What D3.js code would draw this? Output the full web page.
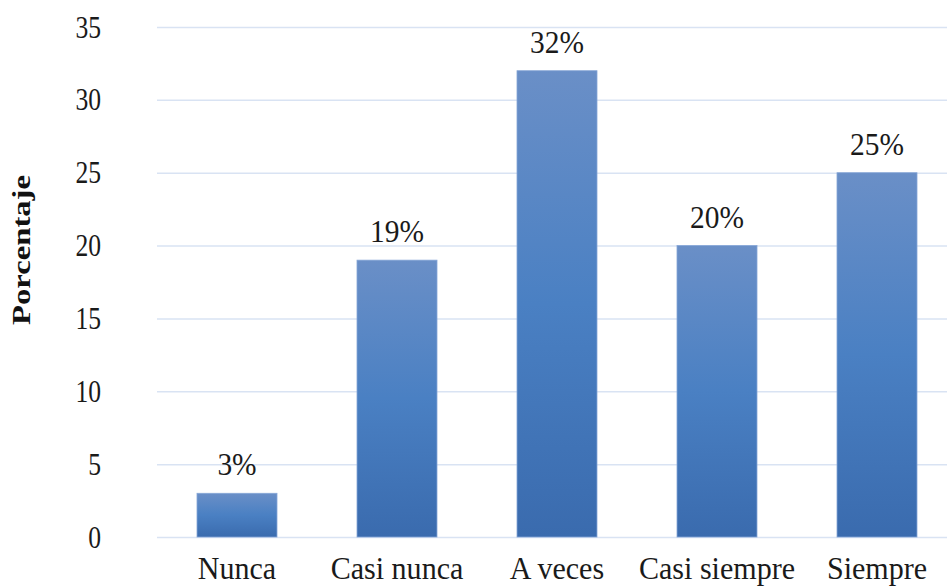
<!DOCTYPE html>
<html>
<head>
<meta charset="utf-8">
<script src="https://cdn.jsdelivr.net/npm/d3@7"></script>
<style>
  body { margin: 0; background: #fff; }
  svg { display: block; }
  svg text { font-family: "Liberation Serif", "Times New Roman", "DejaVu Serif", serif; }
</style>
</head>
<body>
<div id="chart"></div>
<script>
// chart data
let categories = ["Nunca", "Casi nunca", "A veces", "Casi siempre", "Siempre"]
let values = [3, 19, 32, 20, 25]
let tickValues = [0, 5, 10, 15, 20, 25, 30, 35]

let width = 947, height = 586
let plotLeft = 157, plotTop = 27, plotBottom = 537

let svg = d3.select("#chart").append("svg")
  .attr("width", width)
  .attr("height", height)

// bar gradient, light on top, darker at the bottom
let grad = svg.append("defs").append("linearGradient")
  .attr("id", "barGrad")
  .attr("x1", 0).attr("y1", 0).attr("x2", 0).attr("y2", 1)
grad.append("stop").attr("offset", "0%").attr("stop-color", "#6a8fc7")
grad.append("stop").attr("offset", "50%").attr("stop-color", "#4a80c3")
grad.append("stop").attr("offset", "100%").attr("stop-color", "#3a6bae")

let x = d3.scaleBand()
  .domain(categories)
  .range([plotLeft, plotLeft + 800])
  .paddingInner(0.5)
  .paddingOuter(0.25)

let y = d3.scaleLinear()
  .domain([0, 35])
  .range([plotBottom, plotTop])

// the source image is a bit squeezed sideways, so text gets a scaleX
function squeeze(px, py, sx) {
  return "translate(" + px + "," + py + ") scale(" + sx + ",1)"
}

// gridlines
svg.append("g")
  .selectAll("line")
  .data(tickValues)
  .join("line")
  .attr("x1", plotLeft)
  .attr("x2", width)
  .attr("y1", d => y(d) + 0.5)
  .attr("y2", d => y(d) + 0.5)
  .attr("stroke", "#d9e3f3")
  .attr("stroke-width", 1.5)

// y axis tick labels
svg.append("g")
  .selectAll("text")
  .data(tickValues)
  .join("text")
  .attr("transform", d => squeeze(101, y(d) + 10.5, 0.8))
  .attr("text-anchor", "end")
  .style("font-size", "32px")
  .attr("fill", "#1a1a1a")
  .text(d => d)

// bars
svg.append("g")
  .selectAll("rect")
  .data(values)
  .join("rect")
  .attr("x", (d, i) => x(categories[i]))
  .attr("y", d => y(d))
  .attr("width", x.bandwidth())
  .attr("height", d => y(0) - y(d))
  .attr("fill", "url(#barGrad)")
  .attr("stroke", "#86a6d6")
  .attr("stroke-width", 0.8)

// value labels
svg.append("g")
  .selectAll("text")
  .data(values)
  .join("text")
  .attr("transform", (d, i) => squeeze(x(categories[i]) + x.bandwidth() / 2, y(d) - 18, 0.95))
  .attr("text-anchor", "middle")
  .style("font-size", "31px")
  .attr("fill", "#1a1a1a")
  .text(d => d + "%")

// category labels
svg.append("g")
  .selectAll("text")
  .data(categories)
  .join("text")
  .attr("transform", d => squeeze(x(d) + x.bandwidth() / 2, 579, 0.97))
  .attr("text-anchor", "middle")
  .style("font-size", "31px")
  .attr("fill", "#1a1a1a")
  .text(d => d)

// axis title
svg.append("text")
  .attr("transform", "translate(30,250) rotate(-90)")
  .attr("text-anchor", "middle")
  .attr("textLength", 150)
  .attr("lengthAdjust", "spacingAndGlyphs")
  .style("font-size", "26px")
  .style("font-weight", "bold")
  .attr("fill", "#111")
  .text("Porcentaje")
</script>
</body>
</html>
